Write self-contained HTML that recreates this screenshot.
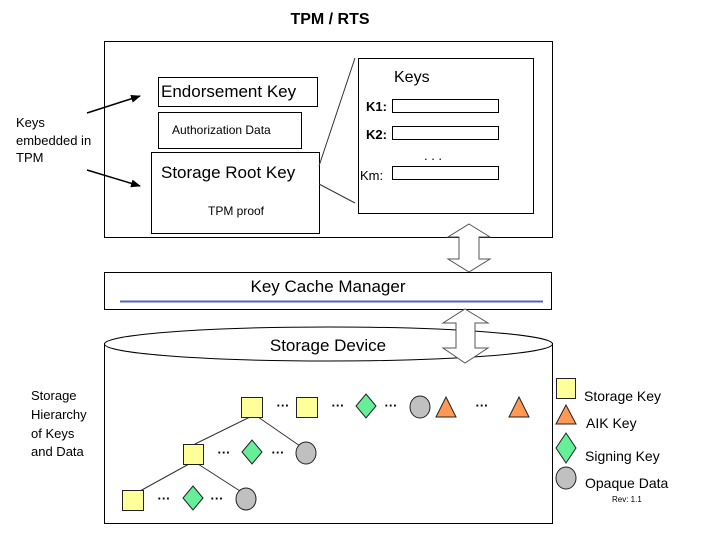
<!DOCTYPE html>
<html><head><meta charset="utf-8"><style>body{margin:0;background:#fff}svg{display:block;font-family:"Liberation Sans",Arial,sans-serif}</style></head><body>
<svg width="710" height="546" viewBox="0 0 710 546" xmlns="http://www.w3.org/2000/svg">
<defs><marker id="ah" markerWidth="10" markerHeight="8" refX="9" refY="4" orient="auto" markerUnits="userSpaceOnUse"><path d="M0,0 L10,4 L0,8 z" fill="#000"/></marker></defs>
<text x="330" y="24" font-size="16" font-weight="bold" text-anchor="middle">TPM / RTS</text>
<rect x="104.5" y="41.5" width="448" height="196" fill="#fff" stroke="#000"/>
<rect x="158.5" y="77.5" width="159" height="29" fill="#fff" stroke="#000"/>
<text x="161" y="97" font-size="17">Endorsement Key</text>
<rect x="158.5" y="112.5" width="143" height="36" fill="#fff" stroke="#000"/>
<text x="172" y="134" font-size="12">Authorization Data</text>
<rect x="151.5" y="152.5" width="168" height="81" fill="#fff" stroke="#000"/>
<text x="161" y="178" font-size="17">Storage Root Key</text>
<text x="208" y="215" font-size="12">TPM proof</text>
<line x1="319" y1="166" x2="355" y2="58" stroke="#333"/>
<line x1="319" y1="184" x2="355" y2="203" stroke="#333"/>
<rect x="358.5" y="58.5" width="175" height="155" fill="#fff" stroke="#000"/>
<text x="394" y="82" font-size="16">Keys</text>
<text x="366" y="111" font-size="13" font-weight="bold">K1:</text>
<rect x="392.5" y="99.5" width="106" height="13" fill="#fff" stroke="#000"/>
<text x="366" y="139" font-size="13" font-weight="bold">K2:</text>
<rect x="392.5" y="126.5" width="106" height="13" fill="#fff" stroke="#000"/>
<text x="433" y="160" font-size="13" text-anchor="middle">. . .</text>
<text x="360" y="180" font-size="13">Km:</text>
<rect x="392.5" y="166.5" width="106" height="13" fill="#fff" stroke="#000"/>
<text x="16" y="127" font-size="13">Keys</text>
<text x="16" y="145" font-size="13">embedded in</text>
<text x="16" y="162" font-size="13">TPM</text>
<line x1="87" y1="113" x2="140" y2="96" stroke="#000" stroke-width="1.5" marker-end="url(#ah)"/>
<line x1="87" y1="170" x2="140" y2="186" stroke="#000" stroke-width="1.5" marker-end="url(#ah)"/>
<!-- arrow 1 -->
<path d="M469,224 L490,237 L479,237 L479,259 L490,259 L469,272 L448,259 L459,259 L459,237 L448,237 Z" fill="#fff" stroke="#555"/>
<rect x="104.5" y="272.5" width="447" height="37" fill="#fff" stroke="#000"/>
<text x="328" y="292" font-size="17" text-anchor="middle">Key Cache Manager</text>
<line x1="120" y1="301.5" x2="543" y2="301.5" stroke="#5563c0" stroke-width="2"/>
<!-- cylinder -->
<path d="M104.5,343 L104.5,523.5 L552.5,523.5 L552.5,343" fill="#fff" stroke="#000"/>
<ellipse cx="328.5" cy="344" rx="224" ry="17" fill="#fff" stroke="#000"/>
<text x="328" y="351" font-size="17" text-anchor="middle">Storage Device</text>
<path d="M465,309 L488,323 L475,323 L475,348 L488,348 L465,363 L443,348 L456,348 L456,323 L443,323 Z" fill="#fff" stroke="#555"/>
<text x="31" y="400" font-size="13">Storage</text>
<text x="31" y="419" font-size="13">Hierarchy</text>
<text x="31" y="438" font-size="13">of Keys</text>
<text x="31" y="456" font-size="13">and Data</text>
<!-- tree lines -->
<g stroke="#333"><line x1="250" y1="417" x2="195" y2="444"/><line x1="258" y1="417" x2="300" y2="446"/><line x1="189" y1="464" x2="140" y2="491"/><line x1="198" y1="464" x2="240" y2="491"/></g>
<g stroke="#222" stroke-width="1">
<rect x="241.5" y="397.5" width="21" height="20" fill="#ffff99"/>
<rect x="296.5" y="397.5" width="21" height="20" fill="#ffff99"/>
<path d="M366,394 L376,406 L366,418 L356,406 Z" fill="#66ee99"/>
<ellipse cx="420" cy="407" rx="10" ry="11" fill="#c0c0c0"/>
<path d="M446,397 L456,417 L436,417 Z" fill="#ff9955"/>
<path d="M519,397 L529,417 L509,417 Z" fill="#ff9955"/>
<rect x="183.5" y="444.5" width="20" height="20" fill="#ffff99"/>
<path d="M252,440 L262,452 L252,464 L242,452 Z" fill="#66ee99"/>
<ellipse cx="306" cy="453" rx="10" ry="11" fill="#c0c0c0"/>
<rect x="122.5" y="490.5" width="21" height="20" fill="#ffff99"/>
<path d="M193,486 L203,498 L193,510 L183,498 Z" fill="#66ee99"/>
<ellipse cx="246" cy="499" rx="10" ry="11" fill="#c0c0c0"/>
<rect x="556.5" y="378.5" width="19" height="20" fill="#ffff99"/>
<path d="M566,405 L576,424 L556,424 Z" fill="#ff9955"/>
<path d="M566,433 L576,448 L566,463 L556,448 Z" fill="#66ee99"/>
<ellipse cx="566" cy="478" rx="10" ry="11" fill="#c0c0c0"/>
</g>
<g font-size="13" font-weight="bold" text-anchor="middle">
<text x="283" y="410">···</text><text x="338" y="410">···</text><text x="391" y="410">···</text><text x="482" y="410">···</text>
<text x="224" y="457">···</text><text x="278" y="457">···</text>
<text x="164" y="503">···</text><text x="217" y="503">···</text>
</g>
<text x="584" y="401" font-size="14">Storage Key</text>
<text x="586" y="428" font-size="14">AIK Key</text>
<text x="585" y="461" font-size="14">Signing Key</text>
<text x="585" y="488" font-size="14">Opaque Data</text>
<text x="612" y="502" font-size="8">Rev: 1.1</text>
</svg>
</body></html>
